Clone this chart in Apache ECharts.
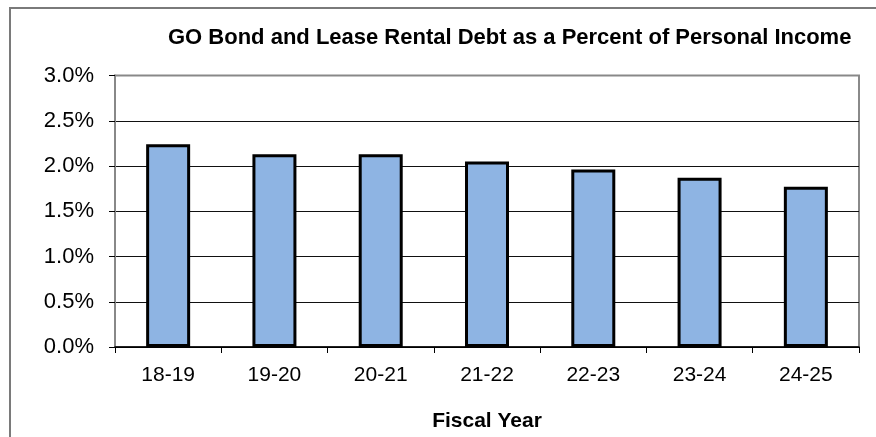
<!DOCTYPE html>
<html>
<head>
<meta charset="utf-8">
<script src="https://cdn.jsdelivr.net/npm/echarts@6/dist/echarts.min.js"></script>
<style>
html,body{margin:0;padding:0;background:#fff;}
#chart{width:876px;height:437px;}
</style>
</head>
<body>
<div id="chart"></div>
<script>
const categories = ['18-19', '19-20', '20-21', '21-22', '22-23', '23-24', '24-25'];
const debtPercent = [2.24, 2.13, 2.13, 2.05, 1.96, 1.87, 1.77];
const yTicks = [0, 0.5, 1.0, 1.5, 2.0, 2.5, 3.0];
const titleText = 'GO Bond and Lease Rental Debt as a Percent of Personal Income';
const xAxisName = 'Fiscal Year';

const chart = echarts.init(document.getElementById('chart'), null, {renderer: 'canvas'});
const font = '"Liberation Sans", Arial, sans-serif';
chart.setOption({
  animation: false,
  backgroundColor: '#fff',
  textStyle: {fontFamily: font},
  title: {
    text: titleText,
    left: 163,
    top: 22,
    textStyle: {fontFamily: font, fontSize: 22, fontWeight: 'bold', color: '#000'}
  },
  graphic: [{
    type: 'rect',
    shape: {x: 10, y: 8, width: 900, height: 500},
    style: {fill: 'none', stroke: '#7a7a7a', lineWidth: 2},
    silent: true,
    z: -10
  }],
  grid: {
    left: 115, right: 17, top: 75.5, bottom: 83,
    show: true, borderColor: '#8a8a8a', borderWidth: 2, backgroundColor: 'transparent'
  },
  xAxis: {
    type: 'category',
    data: categories,
    name: xAxisName,
    nameLocation: 'middle',
    nameGap: 64,
    nameTextStyle: {fontFamily: font, fontSize: 21, fontWeight: 'bold', color: '#000'},
    axisLine: {show: true, lineStyle: {color: '#000', width: 1.5}},
    axisTick: {show: true, length: 6, lineStyle: {color: '#000'}},
    axisLabel: {fontFamily: font, fontSize: 21, color: '#000', margin: 18}
  },
  yAxis: {
    type: 'value',
    min: yTicks[0],
    max: yTicks[yTicks.length - 1],
    interval: 0.5,
    axisLine: {show: true, lineStyle: {color: '#888', width: 2}},
    axisTick: {show: true, length: 6, lineStyle: {color: '#000'}},
    axisLabel: {fontFamily: font, fontSize: 22, color: '#000', margin: 21,
      formatter: v => v.toFixed(1) + '%'},
    splitLine: {show: true, lineStyle: {color: ['#000','#111','#111','#111','#111','#111','#888'], width: 1}}
  },
  series: [{
    type: 'bar',
    data: debtPercent,
    barWidth: 44,
    itemStyle: {color: '#8EB4E3', borderColor: '#000', borderWidth: 3}
  }]
});
</script>
</body>
</html>
